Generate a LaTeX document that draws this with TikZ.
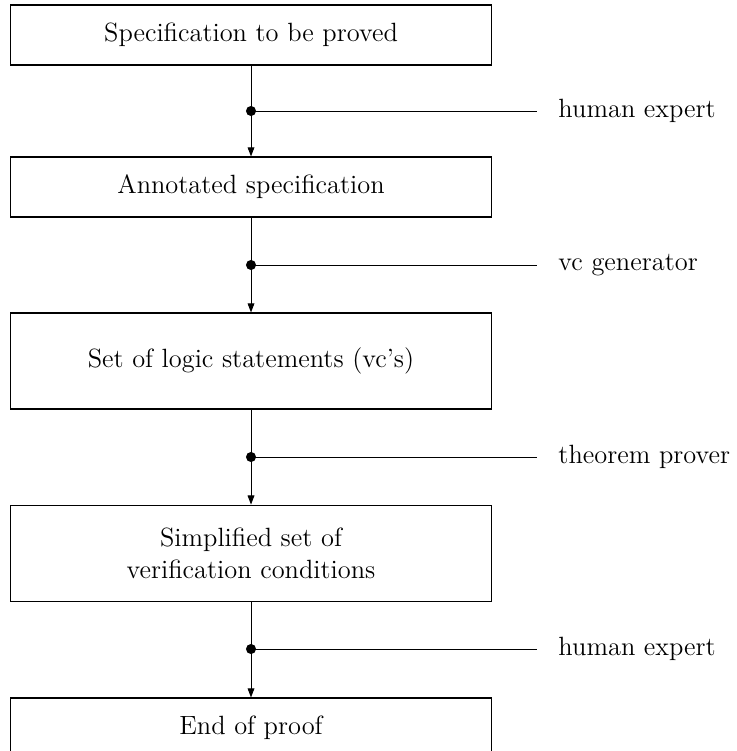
\documentclass[tikz,border=0pt]{standalone}
\usetikzlibrary{arrows.meta}
\begin{document}
\begin{tikzpicture}[x=0.4167pt,y=-0.4167pt,
  every node/.style={font=\fontsize{11}{13.6}\selectfont},
  stagebox/.style={draw, line width=0.45pt, minimum width=200.8pt, minimum height=25pt, align=center, inner sep=2pt},
  flowarrow/.style={line width=0.4pt, -{Triangle[length=3.8pt,width=2.8pt]}},
  tapline/.style={line width=0.4pt},
  tapdot/.style={circle, fill=black, inner sep=0pt, minimum size=4.2pt},
  toollabel/.style={anchor=west, inner sep=0pt}]
\useasboundingbox (0,0) rectangle (736,751);
\clip (0,0) rectangle (736,751);
\node[stagebox] (b1) at (251,35) {Specification to be proved};
\node[stagebox] (b2) at (251,187) {Annotated specification};
\node[stagebox, minimum height=40pt] (b3) at (251,361) {Set of logic statements (vc's)};
\node[stagebox, minimum height=40.3pt] (b4) at (251,553.5) {Simplified set of\\verification conditions};
\node[stagebox] (b5) at (251,728) {End of proof};
\draw[flowarrow] (b1.south) -- (b2.north);
\draw[flowarrow] (b2.south) -- (b3.north);
\draw[flowarrow] (b3.south) -- (b4.north);
\draw[flowarrow] (b4.south) -- (b5.north);
\node[tapdot] (d1) at (251,111) {};
\node[tapdot] (d2) at (251,265) {};
\node[tapdot] (d3) at (251,457) {};
\node[tapdot] (d4) at (251,649) {};
\coordinate (e1) at (537,111);
\coordinate (e2) at (537,265);
\coordinate (e3) at (537,457);
\coordinate (e4) at (537,649);
\node[toollabel] (l1) at (558,111) {human expert};
\node[toollabel] (l2) at (558,265) {vc generator};
\node[toollabel] (l3) at (558,457) {theorem prover};
\node[toollabel] (l4) at (558,649) {human expert};
\draw[tapline] (d1.center) -- (e1);
\draw[tapline] (d2.center) -- (e2);
\draw[tapline] (d3.center) -- (e3);
\draw[tapline] (d4.center) -- (e4);
\end{tikzpicture}
\end{document}
